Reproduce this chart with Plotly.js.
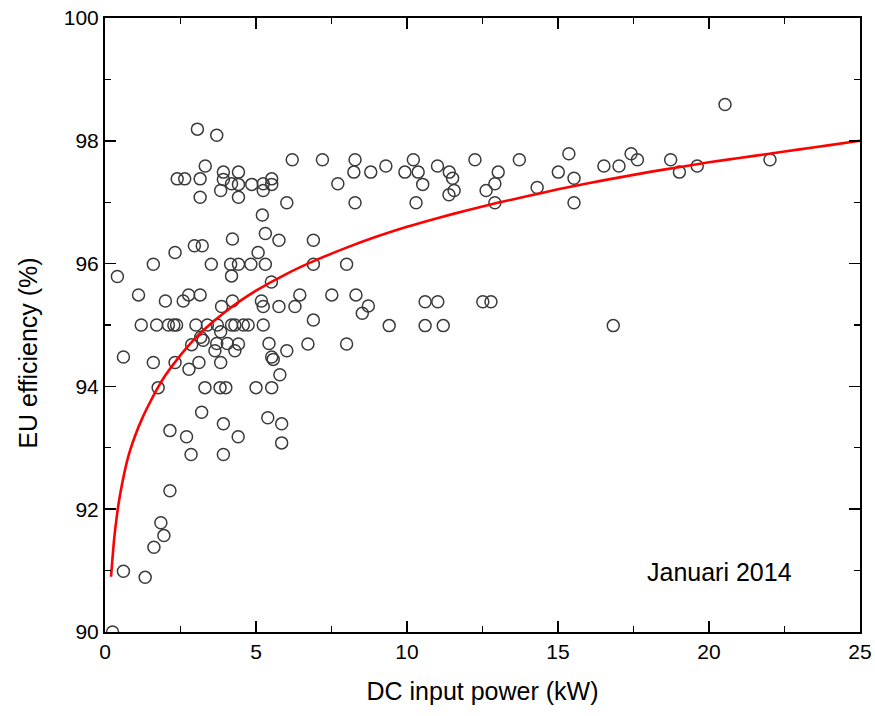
<!DOCTYPE html>
<html>
<head>
<meta charset="utf-8">
<script src="https://cdn.plot.ly/plotly-3.0.1.min.js"></script>
<style>
html,body{margin:0;padding:0;background:#fff;}
#chart{width:875px;height:716px;}
</style>
</head>
<body>
<div id="chart"></div>
<script>
// Measured inverters: DC input power (kW) and EU efficiency (%)
const powerKW = [
  3.06, 3.70, 6.20, 3.32, 2.39, 2.64, 3.15, 3.92, 4.42, 3.92,
  4.19, 4.42, 4.86, 5.24, 5.52, 5.52, 5.24, 3.83, 3.15, 4.42,
  6.02, 5.21, 4.22, 5.31, 5.76, 2.96, 3.22, 2.32, 5.07, 1.60,
  3.52, 4.16, 4.42, 4.83, 5.31, 0.41, 4.19, 5.51, 1.11, 2.00,
  2.59, 2.77, 3.15, 3.86, 4.22, 5.18, 5.24, 5.76, 6.29, 6.45,
  1.20, 1.71, 2.10, 2.28, 2.37, 3.01, 3.39, 3.72, 4.19, 4.30,
  4.58, 4.74, 5.24, 3.83, 3.17, 3.25, 2.87, 3.70, 4.05, 4.42,
  5.43, 3.64, 4.30, 6.02, 0.61, 5.52, 5.57, 1.60, 2.32, 3.11,
  3.83, 2.78, 5.79, 1.76, 3.31, 3.81, 4.00, 5.00, 5.52, 3.20,
  5.39, 3.92, 5.85, 2.15, 2.70, 4.41, 5.85, 2.85, 3.92, 2.15,
  1.85, 1.95, 1.62, 0.61, 1.33, 0.25,
  7.20, 8.28, 8.24, 8.80, 9.30, 7.71, 9.93, 10.21, 10.37, 10.52,
  11.01, 11.40, 11.51, 11.56, 11.39, 12.25, 8.28, 10.30, 6.90, 6.90,
  8.00, 7.51, 8.31, 8.72, 10.60, 11.02, 8.52, 6.90, 9.41, 10.60,
  11.20, 6.72, 8.00,
  13.72, 15.36, 13.02, 12.91, 12.62, 12.91, 14.31, 15.01, 15.53, 15.53,
  16.52, 17.02, 17.42, 17.63, 12.51, 12.78, 16.83, 18.73, 19.02, 19.61,
  20.53, 22.02
];
const euEfficiency = [
  98.19, 98.09, 97.69, 97.59, 97.38, 97.38, 97.38, 97.49, 97.49, 97.37,
  97.30, 97.29, 97.29, 97.30, 97.38, 97.29, 97.19, 97.19, 97.08, 97.08,
  96.99, 96.79, 96.40, 96.49, 96.38, 96.29, 96.29, 96.18, 96.18, 95.99,
  95.99, 95.99, 95.99, 95.99, 95.99, 95.79, 95.80, 95.70, 95.49, 95.39,
  95.39, 95.49, 95.49, 95.30, 95.39, 95.39, 95.30, 95.30, 95.30, 95.49,
  95.00, 95.00, 95.00, 95.00, 95.00, 95.00, 95.00, 95.00, 95.00, 95.00,
  95.00, 95.00, 95.00, 94.89, 94.80, 94.75, 94.68, 94.70, 94.70, 94.69,
  94.70, 94.58, 94.58, 94.58, 94.48, 94.48, 94.44, 94.39, 94.39, 94.39,
  94.39, 94.28, 94.19, 93.98, 93.98, 93.98, 93.98, 93.98, 93.98, 93.58,
  93.49, 93.39, 93.39, 93.28, 93.18, 93.18, 93.08, 92.89, 92.89, 92.30,
  91.78, 91.57, 91.38, 90.99, 90.89, 90.00,
  97.69, 97.69, 97.49, 97.49, 97.59, 97.30, 97.49, 97.69, 97.49, 97.29,
  97.59, 97.49, 97.39, 97.19, 97.12, 97.69, 96.99, 96.99, 96.38, 95.99,
  95.99, 95.49, 95.49, 95.31, 95.38, 95.38, 95.19, 95.08, 94.99, 94.99,
  94.99, 94.69, 94.69,
  97.69, 97.79, 97.49, 97.30, 97.19, 96.99, 97.24, 97.49, 97.39, 96.99,
  97.59, 97.59, 97.79, 97.69, 95.38, 95.38, 94.99, 97.69, 97.49, 97.59,
  98.59, 97.69
];
// Red fitted curve
const fitPower = [0.2, 0.3, 0.4, 0.5, 0.75, 1, 1.25, 1.5, 1.75, 2, 2.5, 3, 3.5, 4, 4.5, 5, 6, 7, 8, 9, 10, 11, 12, 13, 14, 15, 16, 17, 18, 19, 20, 21, 22, 23, 24, 25];
const fitEfficiency = [90.9, 91.5, 91.92, 92.24, 92.82, 93.2, 93.5, 93.75, 93.98, 94.18, 94.51, 94.79, 95.02, 95.22, 95.4, 95.56, 95.83, 96.06, 96.26, 96.44, 96.6, 96.74, 96.87, 96.99, 97.1, 97.21, 97.31, 97.4, 97.49, 97.57, 97.65, 97.72, 97.79, 97.86, 97.93, 98.0];
const xTickVals = [0, 5, 10, 15, 20, 25];
const yTickVals = [90, 92, 94, 96, 98, 100];
const xTitle = 'DC input power (kW)';
const yTitle = 'EU efficiency (%)';
const annotationText = 'Januari 2014';

const FONT = 'Liberation Sans, Arial, sans-serif';

const traces = [
  {
    type: 'scatter', mode: 'markers',
    x: powerKW, y: euEfficiency,
    marker: {symbol: 'circle-open', size: 12, color: '#3a3a3a', line: {width: 1.5, color: '#3a3a3a'}},
    hoverinfo: 'x+y', showlegend: false
  },
  {
    type: 'scatter', mode: 'lines',
    x: fitPower, y: fitEfficiency,
    line: {color: '#ff0000', width: 2.6, shape: 'spline', smoothing: 0.6},
    showlegend: false
  }
];

const axisCommon = {
  showgrid: false, zeroline: false,
  showline: true, linecolor: '#000', linewidth: 2,
  mirror: 'allticks',
  ticks: 'inside', ticklen: 11, tickwidth: 1.6, tickcolor: '#000',
  tickfont: {family: FONT, size: 21, color: '#000'}
};

const layout = {
  width: 875, height: 716,
  margin: {l: 105, r: 15, t: 18, b: 84},
  paper_bgcolor: '#fff', plot_bgcolor: '#fff',
  font: {family: FONT, color: '#000'},
  xaxis: Object.assign({}, axisCommon, {
    range: [0, 25], tickvals: xTickVals, ticktext: xTickVals.map(String),
    minor: {dtick: 2.5, tick0: 0, ticks: 'inside', ticklen: 6, tickwidth: 1.4, tickcolor: '#000'},
    title: {text: xTitle, font: {family: FONT, size: 25, color: '#000'}, standoff: 20}
  }),
  yaxis: Object.assign({}, axisCommon, {
    range: [90, 100], tickvals: yTickVals, ticktext: yTickVals.map(String),
    minor: {dtick: 1, tick0: 90, ticks: 'inside', ticklen: 6, tickwidth: 1.4, tickcolor: '#000'}
  }),
  annotations: [
    {
      x: 20.36, y: 90.98, xref: 'x', yref: 'y', text: annotationText, showarrow: false,
      font: {family: FONT, size: 25, color: '#000'}, xanchor: 'center', yanchor: 'middle'
    },
    {
      x: -0.102, y: 0.455, xref: 'paper', yref: 'paper', text: yTitle, showarrow: false,
      textangle: -90, font: {family: FONT, size: 25, color: '#000'}, xanchor: 'center', yanchor: 'middle'
    }
  ]
};

Plotly.newPlot('chart', traces, layout, {displayModeBar: false, staticPlot: true});
</script>
</body>
</html>
